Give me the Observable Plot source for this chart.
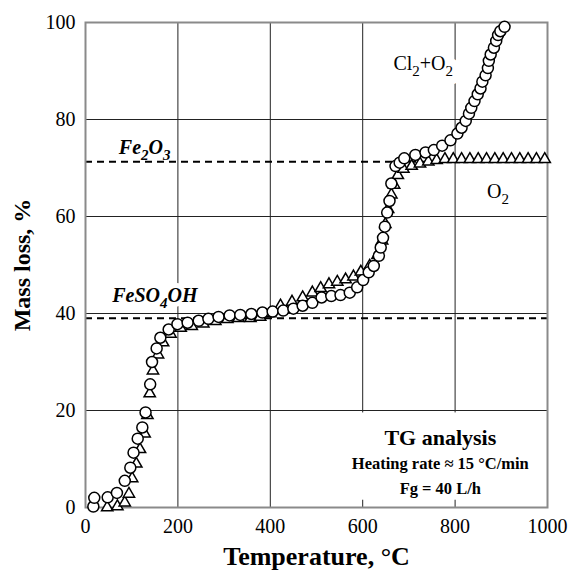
<!DOCTYPE html>
<html><head><meta charset="utf-8">
<script src="https://cdn.jsdelivr.net/npm/d3@7"></script>
<script src="https://cdn.jsdelivr.net/npm/@observablehq/plot@0.6"></script>
<style>
body{margin:0;background:#fff}
</style></head><body><div id="chart"></div>
<script>
// Cl2 + O2 atmosphere (circles)
const cl2o2T = [17,19,48,68,85,97,104,113,123,130,140,144,154,162,180,199,221,245,266,288,312,335,359,383,405,428,450,470,491,511,532,552,572,588,601,613,624,635,639,644,648,653,658,662,671,680,690,714,736,754,772,790,805,814,823,830,835,842,849,855,859,866,871,873,877,884,889,893,898,907];
const cl2o2M = [0.2,2.0,2.1,3.0,5.5,8.2,11.3,14.2,16.5,19.6,25.4,30.0,32.8,35.0,36.7,37.8,38.1,38.5,38.9,39.3,39.6,39.7,39.9,40.2,40.4,40.6,41.0,41.6,42.2,43.3,43.6,43.8,44.3,45.4,46.9,48.5,49.8,51.9,53.6,55.6,57.9,60.8,63.2,66.8,70.4,71.1,72.0,72.7,73.2,73.7,74.6,75.7,77.1,78.3,79.7,81.2,82.4,83.8,85.2,86.4,87.8,89.1,90.6,92.1,93.4,94.8,96.2,97.4,98.2,99.1];
// O2 atmosphere (triangles)
const o2T = [47,69,85,94,101,110,118,128,134,139,146,157,168,184,206,230,255,281,307,331,357,378,400,422,447,470,491,509,527,545,563,580,596,615,632,642,649,655,662,668,676,688,706,724,742,760,778,796,814,832,850,868,886,904,922,940,958,976,994];
const o2M = [0,0.2,1.0,2.8,6.0,9.0,12.0,15.2,19.0,23.5,28.2,31.5,34.0,35.8,37.0,37.4,37.9,38.4,38.8,39.0,39.0,39.3,40.0,41.6,42.4,43.3,44.3,45.2,46.0,46.5,47.0,47.6,48.6,49.8,52.0,55.0,58.4,61.5,64.5,66.5,68.5,69.8,70.4,70.9,71.3,71.6,71.8,71.8,71.8,71.8,71.8,71.8,71.8,71.8,71.8,71.8,71.8,71.8,71.8];
const xTicks = [0,200,400,600,800,1000];
const yTicks = [0,20,40,60,80,100];
const refNames = ["Fe2O3","FeSO4OH"];
const refLevels = [71.3, 39.0];
const boxLines = ["TG analysis","Heating rate \u2248 15 \u00B0C/min","Fg = 40 L/h"];

const circles = cl2o2T.map((t,i)=>({T:t, M:cl2o2M[i]}));
const triangles = o2T.map((t,i)=>({T:t, M:o2M[i]}));

const labels = [
  {t: refNames[0], x: 128, y: 74.2, italic: true, halo: 10},
  {t: refNames[1], x: 150, y: 43.6, italic: true, halo: 10},
  {t: "Cl2+O2", x: 731, y: 91.6, italic: false, halo: 16},
  {t: "O2", x: 893, y: 65.2, italic: false, halo: 0}
];
const haloText = (d) => Plot.text([d], {x: "x", y: "y", text: "t", fontWeight: d.italic ? "bold" : "normal", fontStyle: d.italic ? "italic" : "normal", fontSize: 20, fill: "#fff", stroke: "#fff", strokeWidth: d.halo});
const mainText = (d) => Plot.text([d], {x: "x", y: "y", text: "t", fontWeight: d.italic ? "bold" : "normal", fontStyle: d.italic ? "italic" : "normal", fontSize: 20, fill: "#000"});

const svg = Plot.plot({
  width: 571, height: 573,
  marginLeft: 85, marginRight: 24, marginTop: 22, marginBottom: 66,
  style: {fontFamily: "'Liberation Serif', 'Times New Roman', serif", fontSize: "20px", color: "#000", background: "#fff"},
  x: {domain: [0,1000]},
  y: {domain: [0,100]},
  marks: [
    Plot.ruleX(xTicks.slice(1,-1), {stroke: "#222", strokeWidth: 1}),
    Plot.ruleY(yTicks.slice(1,-1), {stroke: "#222", strokeWidth: 1}),
    Plot.rect([{x1: 530, x2: 1000, y1: 1.5, y2: 19.5}], {x1: "x1", x2: "x2", y1: "y1", y2: "y2", fill: "#fff"}),
    ...labels.filter(d => d.halo > 0).map(haloText),
    Plot.ruleY(refLevels, {stroke: "#000", strokeWidth: 2, strokeDasharray: "7,5"}),
    Plot.frame({stroke: "#8a8a8a", strokeWidth: 2}),
    Plot.dot(triangles, {x: "T", y: "M", symbol: "triangle", r: 4.2, stroke: "#000", fill: "#fff", strokeWidth: 1.5}),
    Plot.dot(circles, {x: "T", y: "M", symbol: "circle", r: 5.5, stroke: "#000", fill: "#fff", strokeWidth: 1.5}),
    Plot.axisX({ticks: xTicks, tickSize: 0, tickPadding: 11, label: null, fontSize: 20, tickFormat: d => String(d)}),
    Plot.axisY({ticks: yTicks, tickSize: 0, tickPadding: 10, label: null, fontSize: 20, tickFormat: d => String(d)}),
    Plot.text(["Temperature, \u00B0C"], {text: d=>d, frameAnchor: "bottom", dy: 49, lineAnchor: "middle", textAnchor: "middle", fontWeight: "bold", fontSize: 26, fill: "#000"}),
    Plot.text(["Mass loss, %"], {text: d=>d, frameAnchor: "left", dx: -63, rotate: -90, textAnchor: "middle", lineAnchor: "middle", fontWeight: "bold", fontSize: 24, fill: "#000"}),
    ...labels.map(mainText),
    Plot.text([{t: boxLines[0], x: 768, y: 14.4}], {x: "x", y: "y", text: "t", fontSize: 22, fontWeight: "bold", fill: "#000"}),
    Plot.text([{t: boxLines[1], x: 768, y: 9.1}], {x: "x", y: "y", text: "t", fontSize: 16.5, fontWeight: "bold", fill: "#000"}),
    Plot.text([{t: boxLines[2], x: 768, y: 3.8}], {x: "x", y: "y", text: "t", fontSize: 16.5, fontWeight: "bold", fill: "#000"})
  ]
});

const rich = {
  "Fe2O3": [["Fe",0],["2",1],["O",0],["3",1]],
  "FeSO4OH": [["FeSO",0],["4",1],["OH",0]],
  "Cl2+O2": [["Cl",0],["2",1],["+O",0],["2",1]],
  "O2": [["O",0],["2",1]]
};
svg.querySelectorAll("text").forEach(t => {
  const parts = rich[t.textContent];
  if (!parts || t.children.length) return;
  const g = t.closest("g");
  const F = parseFloat(t.getAttribute("font-size") || (g && g.getAttribute("font-size"))) || 20;
  t.textContent = "";
  let sub = false;
  parts.forEach(([s, isSub]) => {
    const ts = document.createElementNS("http://www.w3.org/2000/svg", "tspan");
    ts.textContent = s;
    if (isSub) {
      ts.setAttribute("font-size", (F*0.75) + "px");
      if (!sub) ts.setAttribute("dy", (F*0.3) + "");
      sub = true;
    } else {
      if (sub) ts.setAttribute("dy", (-F*0.3) + "");
      sub = false;
    }
    t.appendChild(ts);
  });
});
document.getElementById("chart").appendChild(svg);
</script>
</body></html>
